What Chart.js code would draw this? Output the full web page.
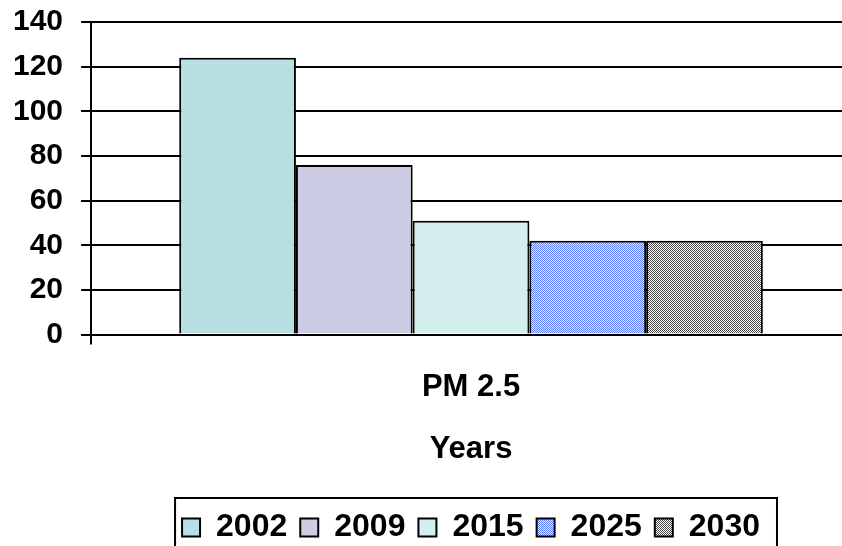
<!DOCTYPE html>
<html>
<head>
<meta charset="utf-8">
<script src="https://cdn.jsdelivr.net/npm/chart.js@4/dist/chart.umd.min.js"></script>
<style>
  html, body { margin: 0; padding: 0; background: #fff; overflow: hidden; }
  #wrap { width: 842px; height: 546px; overflow: hidden; }
</style>
</head>
<body>
<div id="wrap"><canvas id="pmChart" width="851" height="546"></canvas></div>
<script>
let categories = ['PM 2.5'];
let years = ['2002', '2009', '2015', '2025', '2030'];
let pm25Values = [124, 76, 51, 42, 42];
let yTicks = [0, 20, 40, 60, 80, 100, 120, 140];

// small checker patterns like the old office fills
function checker(dark, light) {
    let c = document.createElement('canvas');
    c.width = 2; c.height = 2;
    let g = c.getContext('2d');
    g.fillStyle = light; g.fillRect(0, 0, 2, 2);
    g.fillStyle = dark;
    g.fillRect(0, 0, 1, 1);
    g.fillRect(1, 1, 1, 1);
    return g.createPattern(c, 'repeat');
}

let fills = ['#B8DFE2', '#CCCCE4', '#D5EEEE', checker('#5F7DFF', '#E2E8FF'), checker('#4A4A4A', '#FFFFFF')];

let datasets = [];
for (let i = 0; i < years.length; i++) {
    datasets.push({
        label: years[i],
        data: [pm25Values[i]],
        backgroundColor: fills[i],
        borderColor: '#000',
        borderWidth: 2,
        borderSkipped: 'bottom'
    });
}

// border round the legend items, running off the bottom like the original
const legendBox = {
    id: 'legendBox',
    afterDraw(chart) {
        let lg = chart.legend;
        if (!lg || !lg.legendHitBoxes.length) return;
        let minL = Infinity, maxR = -Infinity;
        lg.legendHitBoxes.forEach(b => {
            minL = Math.min(minL, b.left);
            maxR = Math.max(maxR, b.left + b.width);
        });
        let ctx = chart.ctx;
        ctx.save();
        ctx.strokeStyle = '#000';
        ctx.lineWidth = 2;
        ctx.beginPath();
        ctx.moveTo(minL - 7, chart.height + 5);
        ctx.lineTo(minL - 7, 498);
        ctx.lineTo(maxR + 17, 498);
        ctx.lineTo(maxR + 17, chart.height + 5);
        ctx.stroke();
        ctx.restore();
    }
};

Chart.defaults.font.family = '"Liberation Sans", Arial, sans-serif';
Chart.defaults.color = '#000';

new Chart(document.getElementById('pmChart').getContext('2d'), {
    type: 'bar',
    data: { labels: categories, datasets: datasets },
    plugins: [legendBox],
    options: {
        responsive: false,
        animation: false,
        layout: { padding: { left: -5, right: 0, top: 0, bottom: -7.5 } },
        datasets: { bar: { categoryPercentage: 0.768, barPercentage: 1.0 } },
        scales: {
            y: {
                min: 0, max: 140,
                afterBuildTicks: (axis) => { axis.ticks = yTicks.map(v => ({ value: v })); },
                afterFit: (axis) => { axis.paddingTop = 22; },
                grid: { color: '#000', lineWidth: 2, tickLength: 10, drawTicks: true },
                border: { color: '#000', width: 2 },
                ticks: { font: { size: 30, weight: 'bold' }, padding: 18, color: '#000' }
            },
            x: {
                afterFit: (axis) => { axis.paddingLeft = 0; axis.paddingRight = 0; },
                grid: { display: true, drawOnChartArea: false, color: '#000', lineWidth: 2, tickLength: 10, offset: true },
                border: { color: '#000', width: 2 },
                ticks: { font: { size: 31, weight: 'bold' }, padding: 24.5, color: '#000' },
                title: {
                    display: true,
                    text: 'Years',
                    font: { size: 31, weight: 'bold' },
                    color: '#000',
                    padding: { top: 0.5, bottom: 30 }
                }
            }
        },
        plugins: {
            legend: {
                position: 'bottom',
                fullSize: false,
                labels: {
                    font: { size: 32, weight: 'bold' },
                    color: '#000',
                    boxWidth: 18,
                    boxHeight: 18,
                    padding: 13
                }
            },
            tooltip: { enabled: false }
        }
    }
});
</script>
</body>
</html>
